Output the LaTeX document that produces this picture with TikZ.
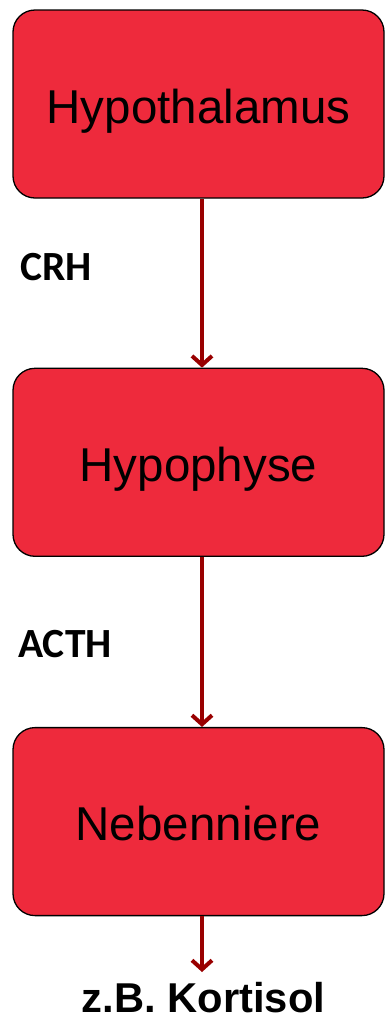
\documentclass[tikz,border=0pt]{standalone}
\usepackage{fontspec}
\setmainfont{Liberation Sans}
\newfontfamily\calibrifont{Carlito}
\usetikzlibrary{arrows.meta,positioning}

\definecolor{organred}{RGB}{238,42,60}
\definecolor{arrowred}{RGB}{153,0,0}

\begin{document}
\begin{tikzpicture}[x=1pt,y=-1pt]
\tikzset{organ/.style={draw=black,line width=1.3pt,fill=organred,rounded corners=22pt,
  minimum width=371pt,minimum height=188pt,text height=38pt,text depth=0pt,
  font=\fontsize{47.5}{56}\selectfont}}
\tikzset{hormone/.style={anchor=west,inner sep=0pt,font=\calibrifont\bfseries\fontsize{41.5}{49}\selectfont}}
\tikzset{signal/.style={draw=arrowred,line width=4pt,-{Straight Barb[length=9pt,width=20pt,line width=4pt]}}}

\useasboundingbox (0,0) rectangle (384,1018);

\node[organ] (hyth) at (198.5,104) {Hypothalamus};
\node[organ,below=169pt of hyth] (hyph) {Hypophyse};
\node[organ,below=170pt of hyph] (nn) {Nebenniere};
\node[anchor=north,inner sep=0pt,font=\bfseries\fontsize{41.7}{50}\selectfont] (out) at (203.5,982) {z.B. Kortisol};

\node[hormone] (crh) at (20,267) {CRH};
\node[hormone] (acth) at (18,644) {ACTH};

\draw[signal] ([xshift=3.5pt]hyth.south) -- ([xshift=3.5pt]hyph.north);
\draw[signal] ([xshift=3.5pt]hyph.south) -- ([xshift=3.5pt]nn.north);
\draw[signal,shorten >=10pt] ([xshift=3.5pt]nn.south) -- ([xshift=-1.5pt]out.north);

\end{tikzpicture}
\end{document}
